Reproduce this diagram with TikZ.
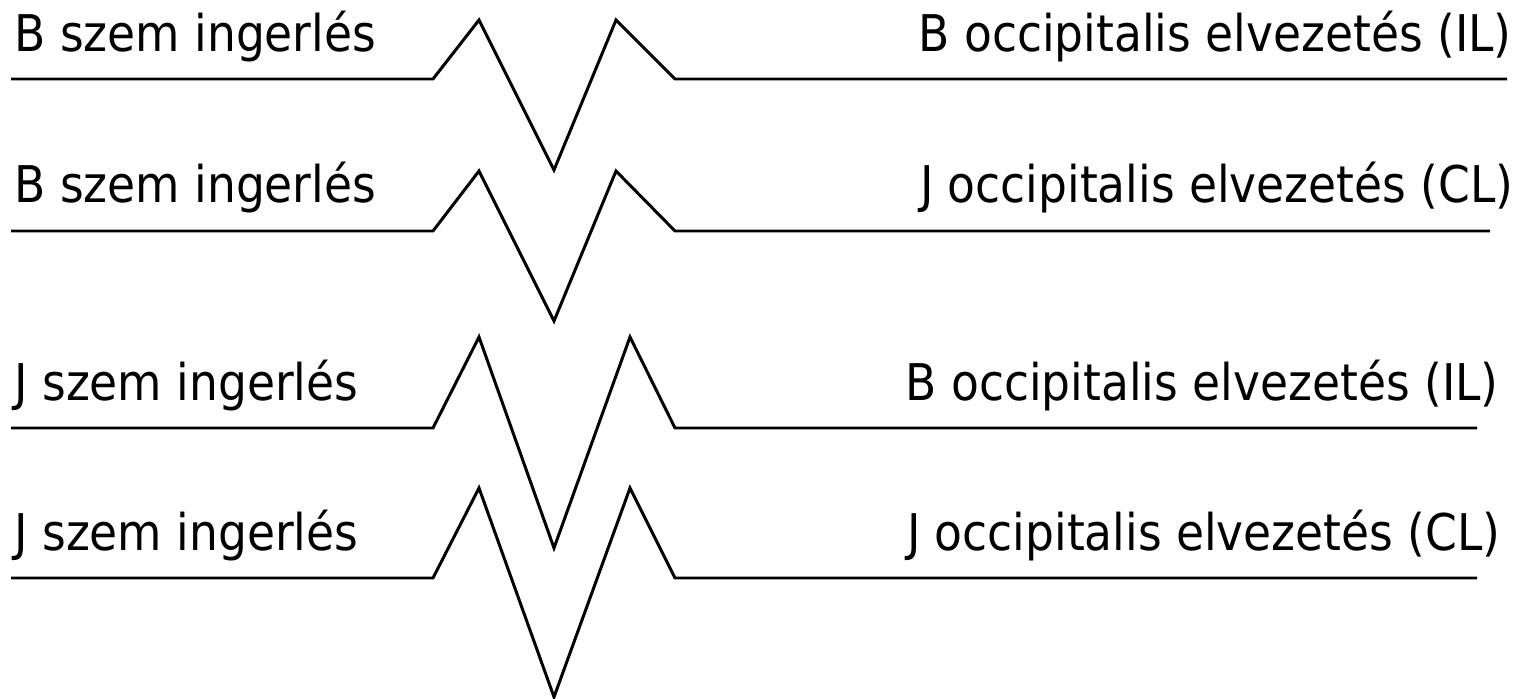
\documentclass[tikz,border=0pt]{standalone}
\usepackage{fontspec}
\setmainfont{DejaVu Sans Condensed}
\usepackage{tikz}

\begin{document}
\begin{tikzpicture}[
    x=0.02cm, y=-0.02cm, line width=1.7pt,
    every node/.style={font=\fontsize{28.8}{33}\selectfont, inner sep=0pt},
    trace/.style={line join=miter, line cap=butt}
]
\useasboundingbox (0,0) rectangle (1535,699);
% row / line y / text y / rise / dip / 2nd peak x / end x / right edge / labels
\foreach \i/\base/\txt/\up/\down/\px/\xend/\redge/\stim/\lead in {
    1/79/52/59/91/616/1507/1513/B szem ingerlés/B occipitalis elvezetés (IL),
    2/231/203/60/90/616/1490/1515/B szem ingerlés/J occipitalis elvezetés (CL),
    3/428/400/91/120/630/1477/1500/J szem ingerlés/B occipitalis elvezetés (IL),
    4/578/550/90/119/630/1477/1502/J szem ingerlés/J occipitalis elvezetés (CL)}{
    \node[anchor=base west] (stim\i) at (13,\txt) {\stim};
    \node[anchor=base east] (lead\i) at (\redge,\txt) {\lead};
    \draw[trace] (11,\base) -- (433,\base) -- (479,\base-\up) -- (554,\base+\down)
        -- (\px,\base-\up) -- (675,\base) -- (\xend,\base);
}
\end{tikzpicture}
\end{document}
